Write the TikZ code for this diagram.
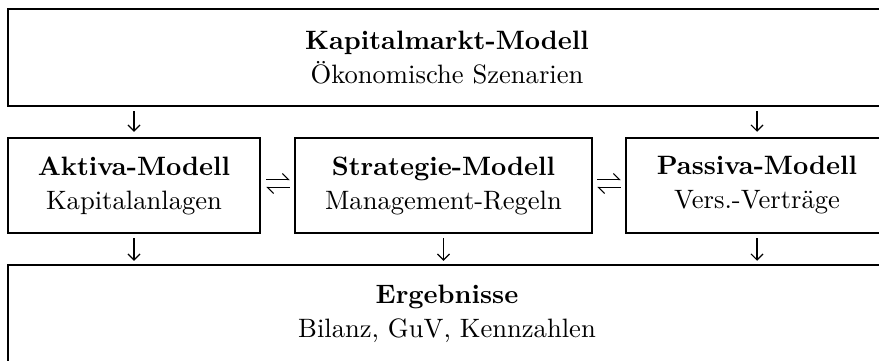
\documentclass[tikz,border=0pt]{standalone}
\usepackage{fontspec}
\setmainfont{lmroman10}[Extension=.otf, UprightFont=*-regular, BoldFont=*-bold]
\usetikzlibrary{arrows.meta}
\tikzset{
  box/.style={draw=black, line width=1.25pt, rectangle, align=center, inner sep=0pt,
    font=\fontsize{13.3}{17}\selectfont},
  arr/.style={line width=0.55pt, -{Straight Barb[length=3pt,width=6pt]}},
  harp/.style={line width=0.55pt, -{Straight Barb[left,length=3pt,width=6pt]}},
}
\begin{document}
\begin{tikzpicture}[x=0.5pt,y=-0.5pt]
\useasboundingbox (0,0) rectangle (879,360);
\node[box, minimum width=439pt, minimum height=48.5pt] (top) at (447,57.5)
  {\textbf{Kapitalmarkt-Modell}\\Ökonomische Szenarien};
\node[box, minimum width=126pt, minimum height=47.5pt] (akt) at (134,185.5)
  {\textbf{Aktiva-Modell}\\Kapitalanlagen};
\node[box, minimum width=148.5pt, minimum height=47.5pt] (str) at (443.5,185.5)
  {\textbf{Strategie-Modell}\\Management-Regeln};
\node[box, minimum width=131pt, minimum height=47.5pt] (pas) at (757,185.5)
  {\textbf{Passiva-Modell}\\Vers.-Verträge};
\node[box, minimum width=439pt, minimum height=48.5pt] (bot) at (447,313.5)
  {\textbf{Ergebnisse}\\Bilanz, GuV, Kennzahlen};
% down arrows
\draw[arr, shorten <=2pt, shorten >=2.5pt] (top.south -| akt.north) -- (akt.north);
\draw[arr, shorten <=2pt, shorten >=2.5pt] (top.south -| pas.north) -- (pas.north);
\draw[arr, shorten <=2pt, shorten >=1.5pt] (akt.south) -- (bot.north -| akt.south);
\draw[arr, shorten <=2pt, shorten >=1.5pt] (str.south) -- (bot.north -| str.south);
\draw[arr, shorten <=2pt, shorten >=1.5pt] (pas.south) -- (bot.north -| pas.south);
% harpoons
\draw[harp, shorten <=2.5pt, shorten >=2pt] ([yshift=3pt]akt.east) -- ([yshift=3pt]str.west);
\draw[harp, shorten <=2pt, shorten >=2.5pt] ([yshift=-1pt]str.west) -- ([yshift=-1pt]akt.east);
\draw[harp, shorten <=2pt, shorten >=2pt] ([yshift=3pt]str.east) -- ([yshift=3pt]pas.west);
\draw[harp, shorten <=2pt, shorten >=2pt] ([yshift=-1pt]pas.west) -- ([yshift=-1pt]str.east);
\end{tikzpicture}
\end{document}
